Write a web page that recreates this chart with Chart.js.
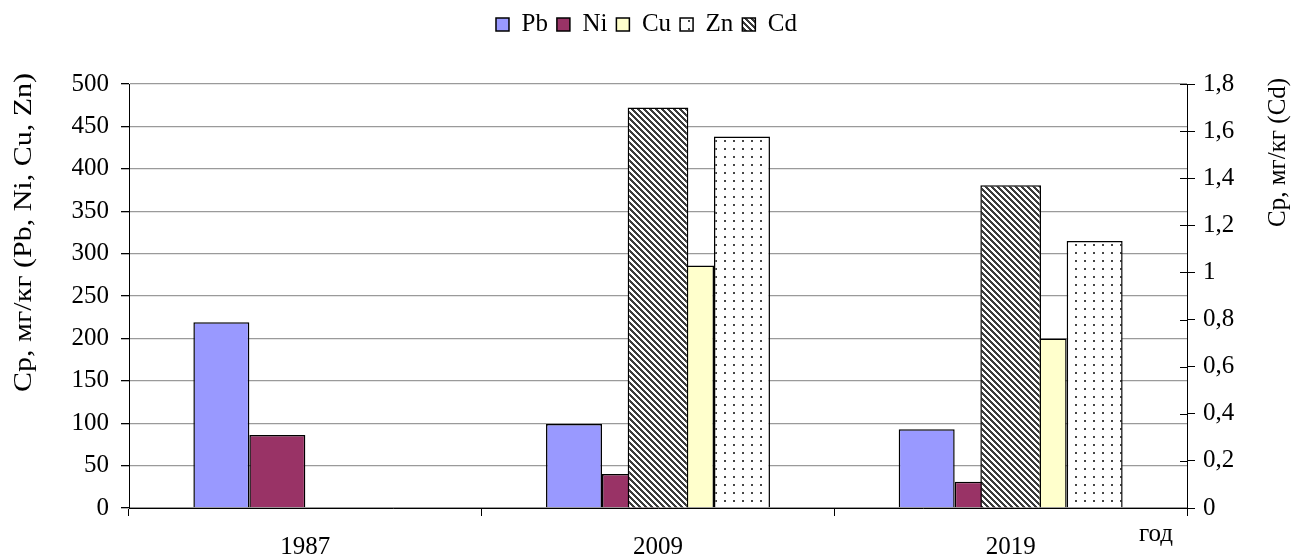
<!DOCTYPE html>
<html>
<head>
<meta charset="utf-8">
<script src="https://cdn.jsdelivr.net/npm/chart.js@4.4.1/dist/chart.umd.min.js"></script>
<style>
  html, body { margin: 0; padding: 0; background: #fff; }
  canvas { display: block; }
</style>
</head>
<body>
<canvas id="chart" width="1293" height="557"></canvas>
<script>
// данные
const years = ['1987', '2009', '2019'];
const pb = [219, 99, 93];
const ni = [86, 40, 31];
const cu = [null, 286, 200];
const zn = [null, 438, 315];
const cd = [null, 1.70, 1.37];   // правая ось

const leftTitle = 'Ср, мг/кг (Pb, Ni, Cu, Zn)';
const rightTitle = 'Ср, мг/кг (Cd)';
const xTitle = 'год';

const FONT = '"Liberation Serif", "Times New Roman", serif';
const FS = 25;
const font = { family: FONT, size: FS };

Chart.defaults.font.family = FONT;
Chart.defaults.font.size = FS;
Chart.defaults.color = '#000';

// штриховки (как в Excel)
function makeTile(w, h, isOn, on, off) {
    const c = document.createElement('canvas');
    c.width = w; c.height = h;
    const g = c.getContext('2d');
    const img = g.createImageData(w, h);
    for (let y = 0; y < h; y++) {
        for (let x = 0; x < w; x++) {
            const v = isOn(x, y) ? on : off;
            const i = (y * w + x) * 4;
            img.data[i] = v; img.data[i + 1] = v; img.data[i + 2] = v; img.data[i + 3] = 255;
        }
    }
    g.putImageData(img, 0, 0);
    return g.createPattern(c, 'repeat');
}
const ctx = document.getElementById('chart').getContext('2d');
const hatchCd = makeTile(6, 6, (x, y) => (((x - y) % 6) + 6) % 6 < 3, 60, 255);
const dotsZn = makeTile(9, 8, (x, y) => (x === 4 || x === 5) && (y === 4 || y === 5), 70, 255);

// подписи осей и «год»
const extraText = {
    id: 'extraText',
    afterDraw(chart) {
        const c = chart.ctx;
        const yR = chart.scales.y1;
        c.save();
        // внутренние засечки правой оси
        c.strokeStyle = '#000';
        c.lineWidth = 1;
        yR.ticks.forEach(t => {
            const py = Math.round(yR.getPixelForValue(t.value)) + 0.5;
            c.beginPath();
            c.moveTo(yR.left - 7, py);
            c.lineTo(yR.left, py);
            c.stroke();
        });
        c.fillStyle = '#000';
        c.font = FS + 'px ' + FONT;
        c.textBaseline = 'alphabetic';
        c.textAlign = 'left';

        // левая подпись обрезана сверху, как в оригинале
        c.save();
        c.beginPath();
        c.rect(0, 72, 60, 480);
        c.clip();
        c.translate(31, 392);
        c.rotate(-Math.PI / 2);
        c.scale(1.2, 1);
        c.fillText(leftTitle, 0, 0);
        c.restore();

        c.save();
        c.translate(1285, 227);
        c.rotate(-Math.PI / 2);
        c.fillText(rightTitle, 0, 0);
        c.restore();

        c.textAlign = 'center';
        c.fillText(xTitle, 1156, 541);
        c.restore();
    }
};

// высота легенды
const legendHeight = {
    id: 'legendHeight',
    beforeInit(chart) {
        const fit = chart.legend.fit;
        chart.legend.fit = function () {
            fit.bind(chart.legend)();
            this.height = 81;
        };
    }
};

const barBase = { borderColor: '#000', borderWidth: 1.5, categoryPercentage: 0.635, barPercentage: 1, order: 1, yAxisID: 'y' };

new Chart(ctx, {
    type: 'bar',
    data: {
        labels: years,
        datasets: [
            { ...barBase, label: 'Pb', data: pb, backgroundColor: '#9999FF' },
            { ...barBase, label: 'Ni', data: ni, backgroundColor: '#993366' },
            { ...barBase, label: 'Cu', data: cu, backgroundColor: '#FFFFCC' },
            { ...barBase, label: 'Zn', data: zn, backgroundColor: dotsZn },
            {
                label: 'Cd', data: cd, backgroundColor: hatchCd,
                borderColor: '#000', borderWidth: 1.5,
                grouped: false, categoryPercentage: 0.172, barPercentage: 1,
                order: 0, yAxisID: 'y1'
            }
        ]
    },
    options: {
        responsive: false,
        animation: false,
        layout: { padding: { top: 3, left: 0, right: 0, bottom: 0 } },
        plugins: {
            legend: {
                position: 'top',
                labels: {
                    boxWidth: 13, boxHeight: 13, padding: 9, color: '#000',
                    font: font,
                    sort: (a, b) => a.datasetIndex - b.datasetIndex
                }
            },
            tooltip: { enabled: false }
        },
        scales: {
            x: {
                grid: { offset: true, drawOnChartArea: false, drawTicks: true, tickLength: 8, tickColor: '#000' },
                border: { color: '#000' },
                ticks: { color: '#000', padding: 16, maxRotation: 0, font: font },
                afterFit: s => { s.height = 49; }
            },
            y: {
                position: 'left',
                min: 0, max: 500,
                ticks: { stepSize: 50, color: '#000', padding: 12, font: font },
                grid: { color: '#9a9a9a', lineWidth: 1.3, tickColor: '#000', tickLength: 8 },
                border: { color: '#000' },
                afterFit: s => { s.width = 129; }
            },
            y1: {
                position: 'right',
                min: 0, max: 1.8,
                ticks: {
                    stepSize: 0.2, color: '#000', padding: 8, font: font,
                    callback: v => String(Math.round(v * 10) / 10).replace('.', ',')
                },
                grid: { drawOnChartArea: false, tickLength: 8, tickColor: '#000' },
                border: { color: '#000' },
                afterFit: s => { s.width = 106; }
            }
        }
    },
    plugins: [legendHeight, extraText]
});
</script>
</body>
</html>
